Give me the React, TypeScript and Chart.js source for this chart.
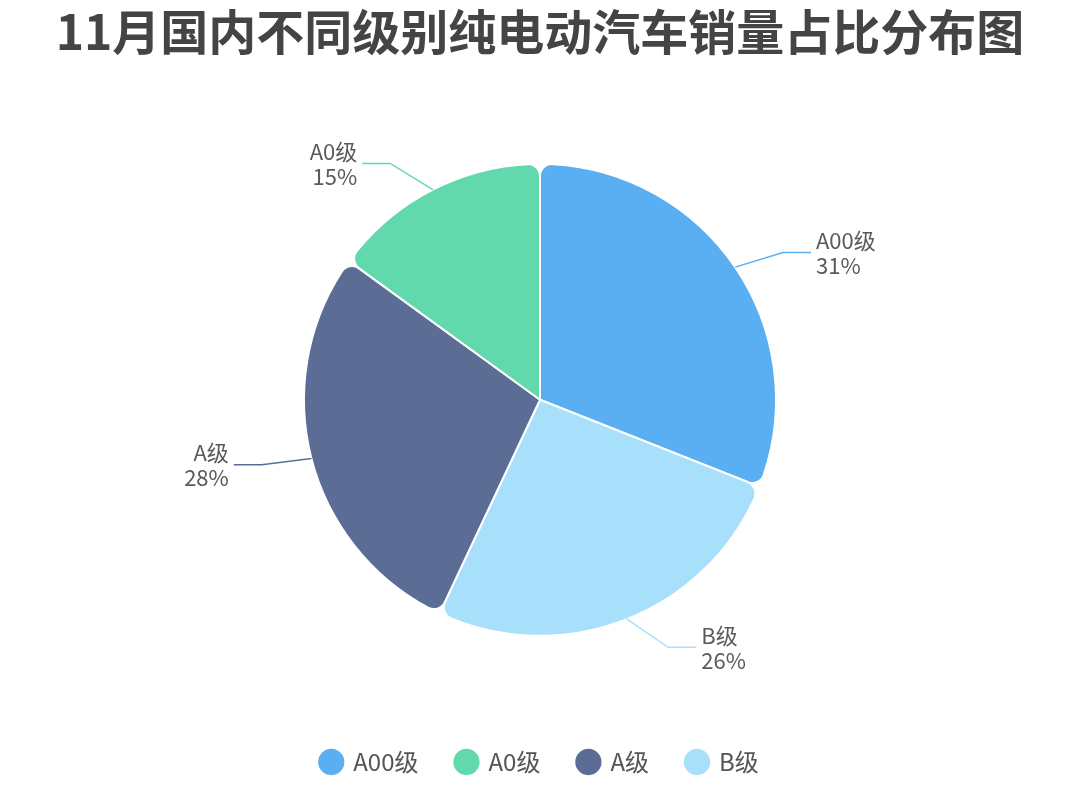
import React, { useRef, useEffect } from "react";
import Chart from "chart.js/auto";

const titleText = "11月国内不同级别纯电动汽车销量占比分布图";
// drawing order (clockwise from 12 o'clock)
const categories = ["A00级", "B级", "A级", "A0级"];
const shares = [31, 26, 28, 15];
const sliceColors = ["#5aaff3", "#a8dffa", "#5b6c95", "#62d9ad"];
// order the legend shows them in
const legendOrder = ["A00级", "A0级", "A级", "B级"];

const FONT = "'Noto Sans CJK SC', 'Noto Sans', sans-serif";

const outsideLabels = {
  id: "outsideLabels",
  afterDatasetsDraw(chart: any) {
    const { ctx } = chart;
    const meta = chart.getDatasetMeta(0);
    const data = chart.data.datasets[0].data as number[];
    const total = data.reduce((a, b) => a + b, 0);
    ctx.save();
    ctx.font = `22px ${FONT}`;
    ctx.textBaseline = "middle";
    ctx.lineWidth = 1.5;
    meta.data.forEach((arc: any, i: number) => {
      const { x, y, startAngle, endAngle, outerRadius } = arc.getProps(
        ["x", "y", "startAngle", "endAngle", "outerRadius"],
        true
      );
      const mid = (startAngle + endAngle) / 2;
      const cos = Math.cos(mid);
      const sin = Math.sin(mid);
      const x0 = x + outerRadius * cos;
      const y0 = y + outerRadius * sin;
      // first leg leaves the slice at a flatter angle than the radius
      const flat = Math.atan2(Math.abs(sin), Math.abs(cos)) * 0.5;
      const right = cos >= 0;
      const x1 = x0 + (right ? 1 : -1) * Math.cos(flat) * 50;
      const y1 = y0 + (sin >= 0 ? 1 : -1) * Math.sin(flat) * 50;
      const x2 = x1 + (right ? 28 : -28);
      ctx.strokeStyle = sliceColors[i];
      ctx.beginPath();
      ctx.moveTo(x0, y0);
      ctx.lineTo(x1, y1);
      ctx.lineTo(x2, y1);
      ctx.stroke();
      ctx.fillStyle = "#5a5a5a";
      ctx.textAlign = right ? "left" : "right";
      const tx = x2 + (right ? 5 : -5);
      const pct = Math.round((data[i] / total) * 100) + "%";
      ctx.fillText(chart.data.labels[i], tx, y1 - 12);
      ctx.fillText(pct, tx, y1 + 13);
    });
    ctx.restore();
  },
};

const App: React.FC = () => {
  const canvasRef = useRef<HTMLCanvasElement>(null);
  const chartRef = useRef<Chart | null>(null);

  useEffect(() => {
    document.body.style.margin = "0";
    if (chartRef.current) chartRef.current.destroy();
    const ctx = canvasRef.current!.getContext("2d")!;
    chartRef.current = new Chart(ctx, {
      type: "pie",
      data: {
        labels: categories,
        datasets: [
          {
            data: shares,
            backgroundColor: sliceColors,
            borderColor: "#ffffff",
            borderWidth: 2,
            borderRadius: { outerStart: 12, outerEnd: 12, innerStart: 0, innerEnd: 0 },
            radius: 236,
          },
        ],
      },
      options: {
        animation: false,
        responsive: false,
        maintainAspectRatio: false,
        layout: { padding: { top: 0, bottom: 2 } },
        plugins: {
          title: {
            display: true,
            text: titleText,
            color: "#444444",
            font: { family: FONT, size: 48, weight: "bold" },
            padding: { top: 3, bottom: 27 },
          },
          legend: {
            position: "bottom",
            labels: {
              usePointStyle: true,
              pointStyle: "circle",
              boxWidth: 20,
              boxHeight: 20,
              padding: 38,
              color: "#555555",
              font: { family: FONT, size: 24 },
              sort: (a: any, b: any) =>
                legendOrder.indexOf(a.text) - legendOrder.indexOf(b.text),
            },
          },
          tooltip: { enabled: false },
        },
      },
      plugins: [outsideLabels],
    });
    return () => {
      if (chartRef.current) {
        chartRef.current.destroy();
        chartRef.current = null;
      }
    };
  }, []);

  return (
    <div style={{ width: 1080, height: 786, background: "#fff" }}>
      <canvas ref={canvasRef} width={1080} height={786} />
    </div>
  );
};

export default App;
